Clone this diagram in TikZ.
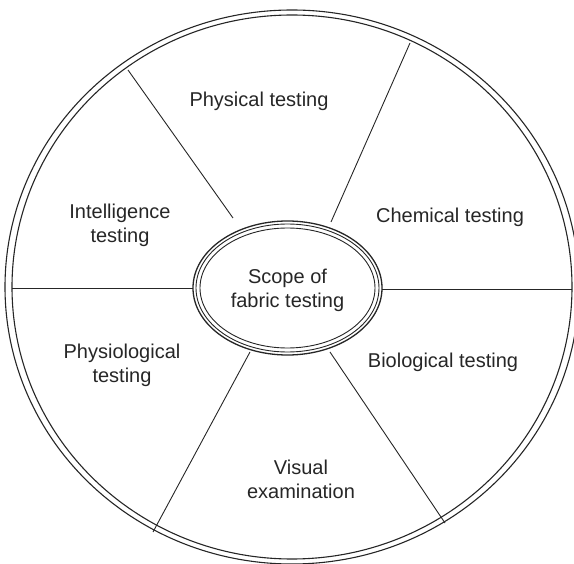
\documentclass[tikz,border=0pt]{standalone}
\usepackage{fontspec}
\setmainfont{Liberation Sans}
\begin{document}
\begin{tikzpicture}[x=1pt,y=-1pt,
  rim/.style={line width=1.1pt, draw=black!85},
  spoke/.style={line width=0.9pt, draw=black!85},
  label/.style={align=center, font=\fontsize{20}{24}\selectfont, text=black!85, inner sep=0pt}]
\useasboundingbox (0,0) rectangle (574,564);
\clip (0,0) rectangle (574,564);
% outer double rim
\draw[rim] (292,287) ellipse [x radius=287, y radius=277];
\draw[rim] (292,287) ellipse [x radius=280, y radius=272];
% hub: triple ring
\draw[line width=1.3pt, draw=black!85] (287.5,288) ellipse [x radius=94.5, y radius=67];
\draw[line width=0.9pt, draw=black!85] (287.5,288) ellipse [x radius=91.5, y radius=64];
\draw[line width=0.9pt, draw=black!85] (287.5,288) ellipse [x radius=87.5, y radius=60];
\node[label] (hub) at (287.5,290) {Scope of\\fabric testing};
% spokes, rim to hub
\coordinate (rL) at (12,288);   \coordinate (hL) at (193,288);
\coordinate (rR) at (572,289);  \coordinate (hR) at (382,289);
\coordinate (rUL) at (128,70);  \coordinate (hUL) at (233,218);
\coordinate (rUR) at (410,43);  \coordinate (hUR) at (331,222);
\coordinate (rDL) at (153,532); \coordinate (hDL) at (250,352);
\coordinate (rDR) at (445,523); \coordinate (hDR) at (330,352);
\draw[spoke] (rL) -- (hL);
\draw[spoke] (rR) -- (hR);
\draw[spoke] (rUL) -- (hUL);
\draw[spoke] (rUR) -- (hUR);
\draw[spoke] (rDL) -- (hDL);
\draw[spoke] (rDR) -- (hDR);
% sector labels
\node[label] (phys) at (259,101) {Physical testing};
\node[label] (chem) at (450,217) {Chemical testing};
\node[label] (intel) at (120,225) {Intelligence\\testing};
\node[label] (physio) at (122,365) {Physiological\\testing};
\node[label] (bio) at (443,362) {Biological testing};
\node[label] (vis) at (301,479) {Visual\\examination};
\end{tikzpicture}
\end{document}
